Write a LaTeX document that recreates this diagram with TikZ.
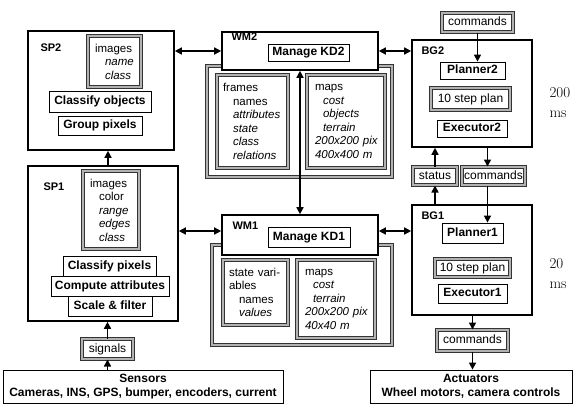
\documentclass[tikz,border=0pt]{standalone}
\usepackage{fontspec}
\newfontfamily\arialfont{Liberation Sans}
\usetikzlibrary{arrows.meta,positioning}

\begin{document}
\begin{tikzpicture}[x=1pt, y=-1pt,
    unit/.style={draw, line width=1.6pt, fill=white, inner sep=0pt},
    unitname/.style={anchor=base west, font=\arialfont\fontsize{11}{12}\selectfont\bfseries},
    proc/.style={draw, line width=0.8pt, fill=white, inner sep=0pt, text height=8.6pt, text depth=2.4pt,
      font=\arialfont\fontsize{12}{14}\selectfont\bfseries},
    io/.style={draw, line width=0.8pt, fill=white, inner sep=0pt, align=center,
      font=\arialfont\fontsize{12}{14}\selectfont\bfseries},
    store/.style={draw=black!80, double=black!30, double distance=1.4pt, line width=1pt, fill=white,
      inner sep=0pt, text height=8.6pt, text depth=2.4pt, font=\arialfont\fontsize{12}{14}\selectfont},
    list/.style={draw=black!80, double=black!30, double distance=1.4pt, line width=1pt, fill=white,
      align=left, inner xsep=6pt, inner ysep=0pt, font=\arialfont\fontsize{11.5}{13.5}\selectfont},
    link/.style={line width=1.5pt, -{Triangle[length=7pt,width=7pt]}},
    dlink/.style={line width=1.5pt, {Triangle[length=7pt,width=7pt]}-{Triangle[length=7pt,width=7pt]}},
    period/.style={anchor=west, align=left, font=\fontsize{15}{20}\selectfont},
  ]
  \useasboundingbox (0,0) rectangle (575,405);

  % --- SP2 ---
  \node[unit, minimum width=146pt, minimum height=119pt] (sp2) at (101,90.5) {};
  \node[unitname] (sp2name) at (37,51) {SP2};
  \node[list, inner xsep=7pt, text width=39pt, minimum height=51pt] (img2) at (114.5,61.5)
    {images\\\hspace*{10pt}\textit{name}\\\hspace*{10pt}\textit{class}};
  \node[proc, minimum width=102pt, minimum height=21pt] (classobj) at (100,101.5) {Classify objects};
  \node[proc, minimum width=84pt, minimum height=19pt] (group) at (100,125.5) {Group pixels};

  % --- SP1 ---
  \node[unit, minimum width=150pt, minimum height=155pt] (sp1) at (103,243.5) {};
  \node[unitname] (sp1name) at (40,190) {SP1};
  \node[list, inner xsep=7pt, text width=42pt, minimum height=78pt] (img1) at (111,210)
    {images\\\hspace*{9pt}color\\\hspace*{9pt}\textit{range}\\\hspace*{9pt}\textit{edges}\\\hspace*{9pt}\textit{class}};
  \node[proc, minimum width=93pt, minimum height=20pt] (classpix) at (109.5,266) {Classify pixels};
  \node[proc, minimum width=118pt, minimum height=20pt] (attrib) at (110,286) {Compute attributes};
  \node[proc, minimum width=84pt, minimum height=20pt] (filter) at (110,306) {Scale \& filter};

  % --- sensors ---
  \node[store, minimum width=51pt, minimum height=20pt] (signals) at (107.5,349) {signals};
  \node[io, minimum width=280pt, minimum height=33pt] (sensors) at (143,386.5)
    {Sensors\\Cameras, INS, GPS, bumper, encoders, current};

  % --- WM2 ---
  \node[list, double distance=2.4pt, minimum width=185pt, minimum height=111pt] (kd2) at (299.5,121.5) {};
  \node[list, text width=59pt, minimum height=93pt] (frames) at (252.5,121.5)
    {frames\\\hspace*{10pt}names\\\mbox{\hspace*{10pt}\textit{attributes}}\\\hspace*{10pt}\textit{state}\\
     \hspace*{10pt}\textit{class}\\\hspace*{10pt}\textit{relations}};
  \node[list, text width=66pt, minimum height=93pt] (maps2) at (346,121.5)
    {\hspace*{2pt}maps\\\hspace*{10pt}\textit{cost}\\\hspace*{10pt}\textit{objects}\\\hspace*{10pt}\textit{terrain}\\
     \hspace*{2pt}\textit{200x200 pix}\\\hspace*{2pt}\textit{400x400 m}};
  \node[unit, minimum width=156pt, minimum height=38pt] (wm2) at (300,51) {};
  \node[unitname] (wm2name) at (228,40) {WM2};
  \node[proc, minimum width=81pt, minimum height=17pt] (manage2) at (308.5,52.5) {Manage KD2};

  % --- WM1 ---
  \node[list, double distance=2.4pt, minimum width=180pt, minimum height=100pt] (kd1) at (302,295) {};
  \node[list, text width=53pt, minimum height=65pt] (statevars) at (255.5,292.5)
    {\mbox{state vari-}\\ables\\\hspace*{10pt}names\\\hspace*{10pt}\textit{values}};
  \node[list, text width=66pt, minimum height=78pt] (maps1) at (336,299)
    {\hspace*{2pt}maps\\\hspace*{10pt}\textit{cost}\\\hspace*{10pt}\textit{terrain}\\
     \hspace*{2pt}\textit{200x200 pix}\\\hspace*{2pt}\textit{40x40 m}};
  \node[unit, minimum width=156pt, minimum height=40pt] (wm1) at (300,235) {};
  \node[unitname] (wm1name) at (229,229) {WM1};
  \node[proc, minimum width=82pt, minimum height=20pt] (manage1) at (309,237) {Manage KD1};

  % --- BG2 ---
  \node[store, minimum width=71pt, minimum height=19pt] (cmd2) at (477.5,22.5) {commands};
  \node[unit, minimum width=120pt, minimum height=107pt] (bg2) at (472,93.5) {};
  \node[unitname] (bg2name) at (418,54) {BG2};
  \node[proc, minimum width=65pt, minimum height=17pt] (plan2) at (472.5,70.5) {Planner2};
  \node[store, minimum width=79pt, minimum height=22pt] (steps2) at (470.5,99) {10 step plan};
  \node[proc, minimum width=70pt, minimum height=17pt] (exec2) at (472,128.5) {Executor2};
  \node[period] (t2) at (546,103) {200\\ms};

  % --- between BG2 and BG1 ---
  \node[store, minimum width=44pt, minimum height=18pt] (status) at (435,176) {status};
  \node[store, minimum width=63pt, minimum height=18pt] (cmd1) at (493.5,176) {commands};

  % --- BG1 ---
  \node[unit, minimum width=120pt, minimum height=110pt] (bg1) at (472,260) {};
  \node[unitname] (bg1name) at (418,219) {BG1};
  \node[proc, minimum width=61pt, minimum height=20pt] (plan1) at (472.5,233) {Planner1};
  \node[store, minimum width=75pt, minimum height=18pt] (steps1) at (472.5,268) {10 step plan};
  \node[proc, minimum width=69pt, minimum height=19pt] (exec1) at (472.5,293.5) {Executor1};
  \node[period] (t1) at (546,274) {20\\ms};

  % --- actuators ---
  \node[store, minimum width=71pt, minimum height=21pt] (cmd0) at (472.5,340.5) {commands};
  \node[io, minimum width=202pt, minimum height=33pt] (act) at (471,386.5)
    {Actuators\\Wheel motors, camera controls};

  % --- connectors ---
  \draw[dlink] (wm2.west) -- (wm2.west -| sp2.east);
  \draw[dlink] (wm2.east) -- (wm2.east -| bg2.west);
  \draw[dlink] ([yshift=4pt]wm1.west) -- ([yshift=4pt]wm1.west -| sp1.east);
  \draw[dlink] ([yshift=4pt]wm1.east) -- ([yshift=4pt]wm1.east -| bg1.west);
  \draw[dlink] (wm2.south) -- (wm1.north);
  \draw[link] ([xshift=5pt]sp1.north) -- ([xshift=5pt]sp1.north |- sp2.south);
  \draw[link] (signals.north) -- (signals.north |- sp1.south);
  \draw[link] (signals.south |- sensors.north) -- (signals.south);
  \draw[link] (cmd2.south) -- (cmd2.south |- plan2.north);
  \draw[link] (status.north) -- (status.north |- bg2.south);
  \draw[link] ([xshift=-6pt]cmd1.north |- bg2.south) -- ([xshift=-6pt]cmd1.north);
  \draw[link] ([xshift=-6pt]cmd1.south) -- ([xshift=-6pt]cmd1.south |- plan1.north);
  \draw[link] (status.south |- bg1.north) -- (status.south);
  \draw[link] (cmd0.north |- bg1.south) -- (cmd0.north);
  \draw[link] (cmd0.south) -- (cmd0.south |- act.north);
\end{tikzpicture}
\end{document}
